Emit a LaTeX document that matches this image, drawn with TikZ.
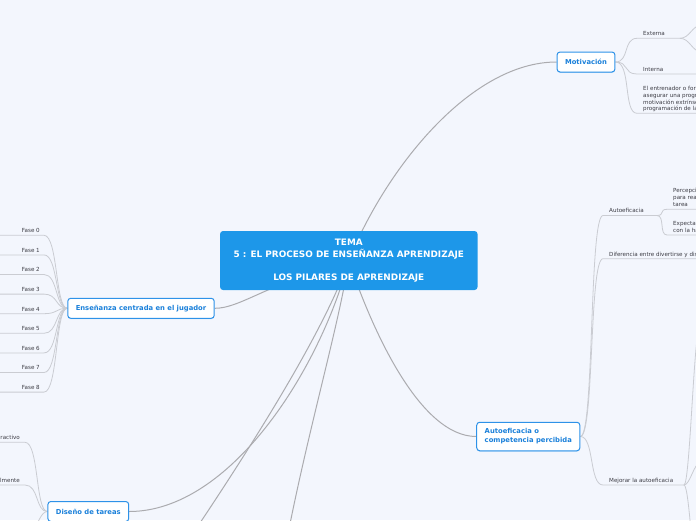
\documentclass[tikz,border=0pt]{standalone}
\usepackage{fontspec}
\setmainfont{DejaVu Sans}
\usetikzlibrary{positioning,calc,backgrounds,shadows}

\definecolor{paper}{HTML}{F3F6FD}
\definecolor{hubblue}{HTML}{1D97E9}
\definecolor{topicblue}{HTML}{1A80DA}
\definecolor{topicline}{HTML}{2E92E8}
\definecolor{mainwire}{HTML}{ABABAF}
\definecolor{twigwire}{HTML}{CACCD2}
\definecolor{leafgray}{HTML}{3C3C44}

\begin{document}
\begin{tikzpicture}[
    x=1pt, y=-1pt,
    hub/.style={rectangle, rounded corners=3pt, fill=hubblue, text=white, align=center, minimum width=257.5pt, minimum height=59pt, font=\fontsize{8.9}{11.5}\selectfont\bfseries},
    topic/.style={rectangle, draw=topicline, line width=1pt, rounded corners=3pt, fill=white, text=topicblue, inner xsep=8pt, minimum height=20pt, font=\fontsize{6.8}{9}\selectfont\bfseries, drop shadow={fill=topicline!35, opacity=1, shadow xshift=0pt, shadow yshift=-0.9pt}},
    leaf/.style={inner xsep=6pt, inner ysep=1.5pt, text depth=1pt, text=leafgray, align=left, font=\fontsize{5.6}{6.9}\selectfont},
    mainwire/.style={draw=mainwire, line width=1pt},
    twig/.style={draw=twigwire, line width=0.8pt}
]
\useasboundingbox (0,0) rectangle (696,520);

% Central topic
\node[hub] (tema) at (348.8,260.5) {TEMA\\5 : EL PROCESO DE ENSEÑANZA APRENDIZAJE\\\mbox{}\\LOS PILARES DE APRENDIZAJE};

% Main topics
\node[topic] (motiv) at (586,62) {Motivación};
\node[topic, align=left, minimum height=28.5pt] (autoef) at (528.3,436.5) {Autoeficacia o\\competencia percibida};
\node[topic] (ensen) at (141,308.3) {Enseñanza centrada en el jugador};
\node[topic] (diseno) at (88.3,511.5) {Diseño de tareas};

% Motivacion leaves
\node[leaf, anchor=south west] (externa) at (637,38.3) {Externa};
\node[leaf, anchor=south west] (interna) at (637,74) {Interna};
\node[leaf, anchor=south west, font=\fontsize{5.6}{6.6}\selectfont] (entren) at (637,113.3) {El entrenador o for\\asegurar una progr\\motivación extrínse\\programación de la};
\coordinate (extfork) at (680,38.3);
\coordinate (extup) at (702,25);
\coordinate (extdown) at (702,52);

% Autoeficacia leaves
\node[leaf, anchor=south west] (autoleaf) at (603,215.5) {Autoeficacia};
\coordinate (autofork) at (657,215.5);
\node[leaf, anchor=south west] (percep) at (667,209.3) {Percepci\\para rea\\tarea};
\node[leaf, anchor=south west] (expect) at (667,235) {Expectat\\con la ha};
\node[leaf, anchor=south west] (difer) at (603,258.7) {Diferencia entre divertirse y dis};
\node[leaf, anchor=south west] (mejorar) at (603,485) {Mejorar la autoeficacia};
\coordinate (mejfork) at (684,485);
\coordinate (mejup) at (700,326);
\coordinate (mejmid) at (700,463);
\coordinate (mejlow) at (700,600);

% Fases
\foreach \i in {0,...,8}
    \node[leaf, inner xsep=4pt, anchor=south east] (fase\i) at (44,235.3+19.6*\i) {Fase \i};

% Diseno leaves
\node[leaf, anchor=south east, inner xsep=5pt] (interact) at (25,442.3) {ractivo};
\node[leaf, anchor=south east, inner xsep=5pt] (lmente) at (25,485) {lmente};
\coordinate (dislow) at (20,560);

% Branches leaving the picture
\coordinate (offA) at (175,560);
\coordinate (offB) at (283,560);
\coordinate (edgeW) at (0,0);
\coordinate (edgeE) at (696,0);

\begin{scope}[on background layer]
\fill[paper] (0,0) rectangle (696,520);

% Hub connectors
\draw[mainwire] (tema.center) .. controls (385,170) and (470,62) .. (motiv.west);
\draw[mainwire] (tema.center) .. controls (372,330) and (420,436.5) .. (autoef.west);
\draw[mainwire] (tema.center) .. controls (265,285) and (240,308.3) .. (ensen.east);
\draw[mainwire] (tema.center) .. controls (320,370) and (230,511.5) .. (diseno.east);
\draw[mainwire] (tema.center) .. controls (325,330) and (250,450) .. (offA);
\draw[mainwire] (tema.center) .. controls (338,330) and (305,440) .. (offB);

% Motivacion branch
\draw[twig] (motiv.east) .. controls +(14,0) and +(-14,0) .. (externa.south west) -- (extfork);
\draw[twig] (extfork) .. controls +(10,0) and +(-10,0) .. (extup);
\draw[twig] (extfork) .. controls +(10,0) and +(-10,0) .. (extdown);
\draw[twig] (motiv.east) .. controls +(14,0) and +(-14,0) .. (interna.south west) -- (interna.south west -| edgeE);
\draw[twig] (motiv.east) .. controls +(16,0) and +(-14,0) .. (entren.south west) -- (entren.south west -| edgeE);

% Autoeficacia branch
\draw[twig] (autoef.east) .. controls +(14,0) and +(-14,0) .. (autoleaf.south west) -- (autofork);
\draw[twig] (autofork) .. controls +(8,0) and +(-8,0) .. (percep.south west) -- (percep.south west -| edgeE);
\draw[twig] (autofork) .. controls +(8,0) and +(-8,0) .. (expect.south west) -- (expect.south west -| edgeE);
\draw[twig] (autoef.east) .. controls +(14,0) and +(-14,0) .. (difer.south west) -- (difer.south west -| edgeE);
\draw[twig] (autoef.east) .. controls +(14,0) and +(-14,0) .. (mejorar.south west) -- (mejfork);
\draw[twig] (mejfork) .. controls +(6,0) and +(-6,0) .. (mejup);
\draw[twig] (mejfork) .. controls +(6,0) and +(-6,0) .. (mejmid);
\draw[twig] (mejfork) .. controls +(6,0) and +(-6,0) .. (mejlow);

% Fases
\foreach \i in {0,...,8}
    \draw[twig] (ensen.west) .. controls +(-12,0) and +(14,0) .. (fase\i.south east) -- (fase\i.south east -| edgeW);

% Diseno branch
\draw[twig] (diseno.west) .. controls +(-12,0) and +(14,0) .. (interact.south east) -- (interact.south east -| edgeW);
\draw[twig] (diseno.west) .. controls +(-12,0) and +(14,0) .. (lmente.south east) -- (lmente.south east -| edgeW);
\draw[twig] (diseno.west) .. controls +(-12,0) and +(10,0) .. (dislow);
\end{scope}

\end{tikzpicture}
\end{document}
